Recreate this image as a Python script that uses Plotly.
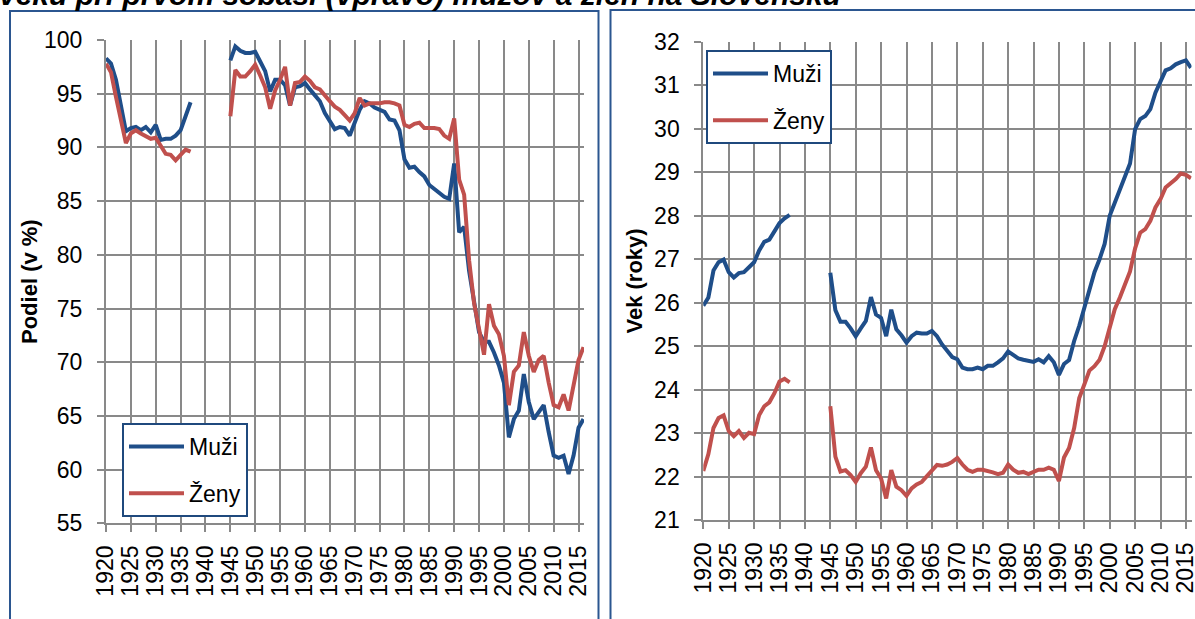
import plotly.graph_objects as go

# Roky (kategórie na osi x)
roky = list(range(1920, 2017))

# Podiel (v %) - ľavý graf
podiel_muzi = [
    98.3, 97.8, 96.3, 93.8, 91.5, 91.8, 91.9, 91.6, 91.9, 91.4,
    92.1, 90.7, 90.8, 90.8, 91.1, 91.6, 92.9, 94.2,
    None, None, None, None, None, None, None,
    98.1, 99.4, 99.0, 98.8, 98.8,
    98.9, 98.0, 97.1, 95.2, 96.3, 96.3, 95.8, 93.9, 95.6, 95.7,
    96.0, 95.4, 94.9, 94.3, 93.2, 92.4, 91.7, 91.9, 91.8, 91.1,
    92.4, 93.5, 94.3, 94.1, 93.7, 93.5, 93.3, 92.6, 92.5, 91.6,
    88.9, 88.1, 88.2, 87.7, 87.3, 86.5, 86.1, 85.7, 85.4, 85.2,
    88.5, 82.1, 82.6, 78.5, 75.5, 72.8, 71.9, 71.9, 70.9, 69.7,
    68.1, 63.0, 64.7, 65.5, 68.9, 66.3, 64.7, 65.3, 66.0, 63.5,
    61.3, 61.1, 61.3, 59.6, 61.3, 63.9, 64.7,
]
podiel_zeny = [
    97.8, 97.0, 94.7, 92.5, 90.4, 91.3, 91.6, 91.3, 91.1, 90.8,
    90.9, 90.2, 89.4, 89.3, 88.8, 89.3, 89.8, 89.6,
    None, None, None, None, None, None, None,
    92.9, 97.2, 96.6, 96.6, 97.1,
    97.7, 96.7, 95.6, 93.6, 95.3, 96.3, 97.5, 93.9, 96.0, 96.1,
    96.6, 96.2, 95.6, 95.4, 94.8, 94.3, 93.8, 93.5, 93.0, 92.5,
    93.2, 94.6, 93.9, 94.1, 94.1, 94.1, 94.2, 94.2, 94.1, 93.9,
    92.1, 91.9, 92.2, 92.3, 91.8, 91.8, 91.8, 91.7, 91.1, 90.8,
    92.7, 87.0, 85.6, 79.5, 75.5, 73.1, 70.7, 75.4, 73.4, 72.6,
    70.6, 66.0, 69.1, 69.7, 72.8, 70.6, 69.1, 70.2, 70.6, 68.1,
    66.0, 65.8, 67.0, 65.5, 68.1, 70.2, 71.4,
]

# Vek (roky) - pravý graf
vek_muzi = [
    25.93, 26.12, 26.74, 26.93, 26.99, 26.70, 26.58, 26.68, 26.70, 26.82,
    26.93, 27.20, 27.40, 27.45, 27.62, 27.83, 27.94, 28.02,
    None, None, None, None, None, None, None,
    26.69, 25.83, 25.56, 25.56, 25.41,
    25.23, 25.41, 25.58, 26.13, 25.73, 25.65, 25.23, 25.84, 25.39, 25.25,
    25.08, 25.23, 25.31, 25.29, 25.29, 25.35, 25.23, 25.04, 24.88, 24.75,
    24.70, 24.51, 24.47, 24.47, 24.51, 24.47, 24.55, 24.55, 24.63, 24.72,
    24.88, 24.80, 24.72, 24.69, 24.67, 24.64, 24.70, 24.63, 24.77, 24.63,
    24.34, 24.59, 24.68, 25.12, 25.47, 25.89, 26.35, 26.70, 27.00, 27.35,
    28.00, 28.30, 28.61, 28.91, 29.20, 29.99, 30.22, 30.29, 30.45, 30.83,
    31.10, 31.34, 31.39, 31.48, 31.53, 31.57, 31.40,
]
vek_zeny = [
    22.13, 22.52, 23.12, 23.35, 23.41, 23.05, 22.93, 23.05, 22.89, 23.01,
    22.98, 23.42, 23.62, 23.71, 23.92, 24.19, 24.25, 24.17,
    None, None, None, None, None, None, None,
    23.62, 22.46, 22.12, 22.15, 22.04,
    21.88, 22.08, 22.23, 22.67, 22.15, 21.96, 21.50, 22.15, 21.77, 21.69,
    21.56, 21.73, 21.82, 21.88, 22.00, 22.12, 22.27, 22.25, 22.28, 22.34,
    22.43, 22.28, 22.16, 22.11, 22.16, 22.16, 22.14, 22.10, 22.06, 22.09,
    22.28, 22.16, 22.09, 22.11, 22.06, 22.12, 22.16, 22.16, 22.21, 22.16,
    21.90, 22.44, 22.66, 23.12, 23.81, 24.12, 24.44, 24.54, 24.69, 25.00,
    25.46, 25.85, 26.12, 26.40, 26.72, 27.25, 27.61, 27.69, 27.88, 28.19,
    28.38, 28.65, 28.74, 28.84, 28.97, 28.94, 28.86,
]

# Farby
modra = "#1F4E89"
cervena = "#C0504D"
mriezka = "#898989"
ramik = "#2B5690"
pismo = "Liberation Sans, Arial, sans-serif"

W, H = 1195, 619

fig = go.Figure()

# Ľavý graf
fig.add_trace(go.Scatter(x=roky, y=podiel_muzi, name="Muži", mode="lines",
                         line=dict(color=modra, width=4), connectgaps=False,
                         legend="legend", legendgroup="m1"))
fig.add_trace(go.Scatter(x=roky, y=podiel_zeny, name="Ženy", mode="lines",
                         line=dict(color=cervena, width=4), connectgaps=False,
                         legend="legend", legendgroup="z1"))
# Pravý graf
fig.add_trace(go.Scatter(x=roky, y=vek_muzi, name="Muži", mode="lines",
                         line=dict(color=modra, width=4), connectgaps=False,
                         xaxis="x2", yaxis="y2", legend="legend2", legendgroup="m2"))
fig.add_trace(go.Scatter(x=roky, y=vek_zeny, name="Ženy", mode="lines",
                         line=dict(color=cervena, width=4), connectgaps=False,
                         xaxis="x2", yaxis="y2", legend="legend2", legendgroup="z2"))

# Spoločné nastavenie osí
os_x = dict(range=[1920, 2016.1], tick0=1920, dtick=5, tickangle=-90,
            showgrid=True, gridcolor=mriezka, gridwidth=2,
            showline=True, linecolor=mriezka, linewidth=2,
            ticks="outside", ticklen=7, tickwidth=2, tickcolor=mriezka,
            zeroline=False, ticklabelstandoff=4, automargin=False,
            ticklabeloverflow="allow",
            tickfont=dict(family=pismo, size=23, color="black"))
os_y = dict(showgrid=True, gridcolor=mriezka, gridwidth=2,
            showline=True, linecolor=mriezka, linewidth=2,
            ticks="outside", ticklen=7, tickwidth=2, tickcolor=mriezka,
            zeroline=False, ticklabelstandoff=10, automargin=False,
            tickfont=dict(family=pismo, size=23, color="black"))

legenda = dict(xanchor="left", yanchor="top", bgcolor="white",
               bordercolor="#1F497D", borderwidth=2, itemwidth=55,
               tracegroupgap=14, traceorder="grouped",
               font=dict(family=pismo, size=23, color="black"))

fig.update_layout(
    template="none",
    width=W, height=H,
    margin=dict(l=0, r=0, t=0, b=0, autoexpand=False),
    paper_bgcolor="white", plot_bgcolor="white",
    font=dict(family=pismo, color="black"),
    xaxis=dict(os_x, domain=[106 / W, 584 / W], anchor="y"),
    yaxis=dict(os_y, domain=[1 - 523.3 / H, 1 - 40 / H], range=[55, 100], dtick=5,
               anchor="x",
               title=dict(text="Podiel (v %)", standoff=0,
                          font=dict(family=pismo, size=22, weight="bold", color="black"))),
    xaxis2=dict(os_x, domain=[703.3 / W, 1191.5 / W], anchor="y2"),
    yaxis2=dict(os_y, domain=[1 - 520.2 / H, 1 - 41.7 / H], range=[21, 32], dtick=1,
                anchor="x2",
                title=dict(text="Vek (roky)", standoff=5,
                           font=dict(family=pismo, size=22, weight="bold", color="black"))),
    legend=dict(legenda, x=122 / W, y=1 - 423 / H),
    legend2=dict(legenda, x=706 / W, y=1 - 50 / H),
    showlegend=True,
)

# Rámiky panelov
fig.add_shape(type="rect", xref="paper", yref="paper",
              x0=10 / W, x1=598.5 / W, y0=-0.1, y1=1 - 11 / H,
              line=dict(color=ramik, width=2), fillcolor="rgba(0,0,0,0)")
fig.add_shape(type="rect", xref="paper", yref="paper",
              x0=610.5 / W, x1=1.1, y0=-0.1, y1=1 - 10 / H,
              line=dict(color=ramik, width=2), fillcolor="rgba(0,0,0,0)")

# Orezaný nadpis
fig.add_annotation(text="<b><i>veku pri prvom sobáši (vpravo) mužov a žien na Slovensku</i></b>",
                   xref="paper", yref="paper", x=0, y=1 - 13 / H,
                   xanchor="left", yanchor="bottom", showarrow=False, xshift=-3,
                   font=dict(family=pismo, size=30, color="black"))

# stránka bez okrajov, aby graf začínal v rohu okna
fig.write_html("out.html", config={"displayModeBar": False},
               post_script="document.body.style.margin='0';")
